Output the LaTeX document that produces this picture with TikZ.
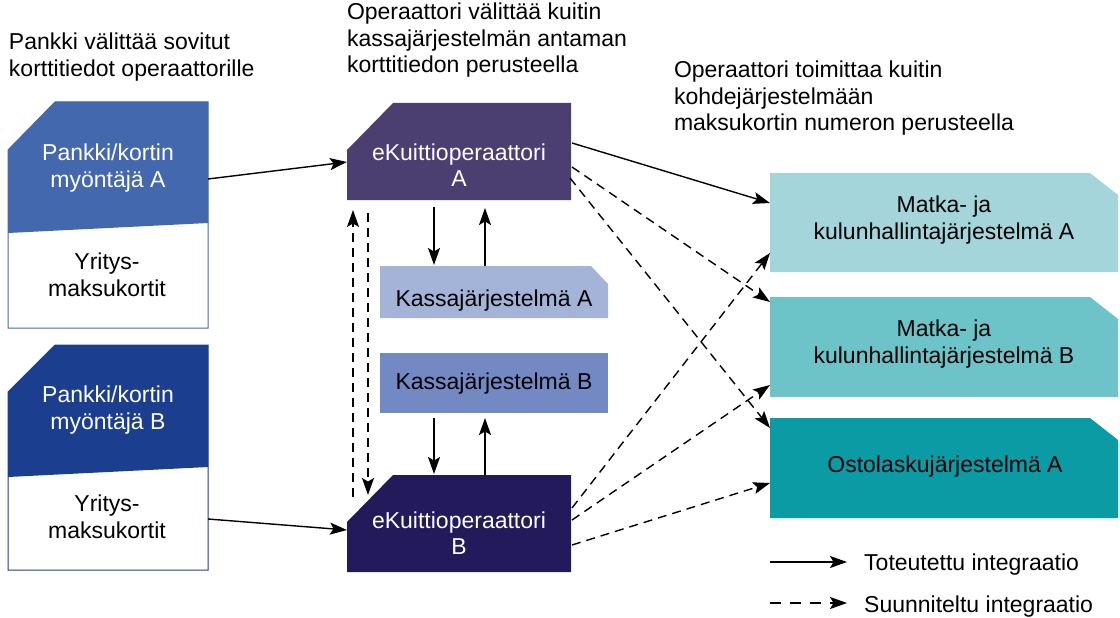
\documentclass[tikz,border=0pt]{standalone}
\usepackage{fontspec}
\setmainfont{Liberation Sans}
\usetikzlibrary{arrows.meta,calc}
\definecolor{cBankA}{HTML}{4468AE}
\definecolor{cBankB}{HTML}{1C3E8E}
\definecolor{cEkA}{HTML}{4B3F72}
\definecolor{cEkB}{HTML}{231A5C}
\definecolor{cKassaA}{HTML}{A4B4D8}
\definecolor{cKassaB}{HTML}{7389C3}
\definecolor{cMatkaA}{HTML}{A3D5DB}
\definecolor{cMatkaB}{HTML}{6CC4C9}
\definecolor{cOsto}{HTML}{0A9BA5}
\begin{document}
\begin{tikzpicture}[x=1pt,y=-1pt,
  area/.style={inner sep=0pt,outer sep=0pt,draw=none},
  txt/.style={inner sep=0pt,outer sep=0pt,align=center,font=\fontsize{23}{26.5}\selectfont},
  txtw/.style={txt,text=white},
  lbl/.style={inner sep=0pt,outer sep=0pt,align=left,anchor=west,font=\fontsize{23}{26.5}\selectfont},
  conn/.style={line width=1.4pt,-{Stealth[length=17pt,width=12pt,inset=3.5pt]}},
  plan/.style={conn,dash pattern=on 9pt off 6pt},
  planleg/.style={conn,dash pattern=on 11pt off 9pt}]
\useasboundingbox (0,0) rectangle (1120,618);

% ---- box shapes ----
\filldraw[fill=white,draw=cBankA,line width=1pt] (55,102) -- (208,102) -- (208,328) -- (8,328) -- (8,150) -- cycle;
\fill[cBankA] (55,102) -- (208,102) -- (208,223) -- (8,233) -- (8,150) -- cycle;
\filldraw[fill=white,draw=cBankB,line width=1pt] (55,345) -- (208,345) -- (208,570) -- (8,570) -- (8,392) -- cycle;
\fill[cBankB] (55,345) -- (208,345) -- (208,467) -- (8,477) -- (8,392) -- cycle;
\fill[cEkA] (393,103) -- (571,103) -- (571,200) -- (347,200) -- (347,150) -- cycle;
\fill[cEkB] (393,475) -- (571,475) -- (571,572) -- (347,572) -- (347,522) -- cycle;
\fill[cKassaA] (380,266) -- (591,266) -- (608,284) -- (608,318) -- (380,318) -- cycle;
\fill[cKassaB] (380,353) rectangle (608,413);
\fill[cMatkaA] (770,173) -- (1090,173) -- (1118,195) -- (1118,272) -- (770,272) -- cycle;
\fill[cMatkaB] (770,297) -- (1090,297) -- (1118,319) -- (1118,397) -- (770,397) -- cycle;
\fill[cOsto] (770,418) -- (1090,418) -- (1118,440) -- (1118,518) -- (770,518) -- cycle;

% ---- box nodes (for connectors) ----
\node[area,minimum width=200,minimum height=226] (bankA) at (108,215) {};
\node[area,minimum width=200,minimum height=225] (bankB) at (108,457.5) {};
\node[area,minimum width=224,minimum height=97] (ekA) at (459,151.5) {};
\node[area,minimum width=224,minimum height=97] (ekB) at (459,523.5) {};
\node[area,minimum width=228,minimum height=52] (kassaA) at (494,292) {};
\node[area,minimum width=228,minimum height=60] (kassaB) at (494,383) {};
\node[area,minimum width=348,minimum height=99] (matkaA) at (944,222.5) {};
\node[area,minimum width=348,minimum height=100] (matkaB) at (944,347) {};
\node[area,minimum width=348,minimum height=100] (osto) at (944,468) {};

% ---- texts ----
\node[lbl] (lblL) at (9,57.25) {Pankki välittää sovitut\\korttitiedot operaattorille};
\node[lbl] (lblM) at (347,40.5) {Operaattori välittää kuitin\\kassajärjestelmän antaman\\korttitiedon perusteella};
\node[lbl] (lblR) at (674,98.5) {Operaattori toimittaa kuitin\\kohdejärjestelmään\\maksukortin numeron perusteella};
\node[txtw] (tBankA) at (108,168) {Pankki/kortin\\myöntäjä A};
\node[txt] (tYrA) at (107,275) {Yritys-\\maksukortit};
\node[txtw] (tBankB) at (108,410) {Pankki/kortin\\myöntäjä B};
\node[txt] (tYrB) at (107,517) {Yritys-\\maksukortit};
\node[txtw] (tEkA) at (459,165) {eKuittioperaattori\\A};
\node[txtw] (tEkB) at (459,533) {eKuittioperaattori\\B};
\node[txt] (tKassaA) at (494,301) {Kassajärjestelmä A};
\node[txt] (tKassaB) at (494,384) {Kassajärjestelmä B};
\node[txt] (tMatkaA) at (944,220) {Matka- ja\\kulunhallintajärjestelmä A};
\node[txt] (tMatkaB) at (944,344) {Matka- ja\\kulunhallintajärjestelmä B};
\node[txt] (tOsto) at (945,467) {Ostolaskujärjestelmä A};

% ---- connectors ----
\draw[conn] ($(bankA.north east)+(0,77)$) -- ($(ekA.north west)+(0,59)$);
\draw[conn] ($(bankB.north east)+(0,174)$) -- ($(ekB.north west)+(0,55)$);
\draw[conn] ($(ekA.south west)+(87,7)$) -- ($(kassaA.north west)+(54,-1)$);
\draw[conn] ($(kassaA.north west)+(105,0)$) -- ($(ekA.south west)+(138,8)$);
\draw[conn] ($(kassaB.south west)+(54,5)$) -- ($(ekB.north west)+(87,-1)$);
\draw[conn] ($(ekB.north west)+(138,0)$) -- ($(kassaB.south west)+(105,5)$);
\draw[plan] ($(ekB.north west)+(6,22)$) -- ($(ekA.south west)+(6,10)$);
\draw[plan] ($(ekA.south west)+(21,13)$) -- ($(ekB.north west)+(21,20)$);
\draw[conn] ($(ekA.north east)+(1,40)$) -- ($(matkaA.north west)+(0,30)$);
\draw[plan] ($(ekA.north east)+(1,64)$) -- ($(matkaB.north west)+(0,5)$);
\draw[plan] ($(ekA.north east)+(-1,75)$) -- ($(osto.north west)+(0,10)$);
\draw[plan] ($(ekB.north east)+(1,33)$) -- ($(matkaA.north west)+(0,80)$);
\draw[plan] ($(ekB.north east)+(1,45)$) -- ($(matkaB.north west)+(0,88)$);
\draw[plan] ($(ekB.north east)+(1,70)$) -- ($(osto.north west)+(0,65)$);

% ---- legend ----
\coordinate (legS1) at (770,562);
\coordinate (legE1) at (847,562);
\coordinate (legS2) at (770,603);
\coordinate (legE2) at (847,603);
\draw[conn] (legS1) -- (legE1);
\draw[planleg] (legS2) -- (legE2);
\node[inner sep=0pt,anchor=base west,font=\fontsize{23}{26.5}\selectfont] (legT1) at (864,570) {Toteutettu integraatio};
\node[inner sep=0pt,anchor=base west,font=\fontsize{23}{26.5}\selectfont] (legT2) at (864,612) {Suunniteltu integraatio};
\end{tikzpicture}
\end{document}
